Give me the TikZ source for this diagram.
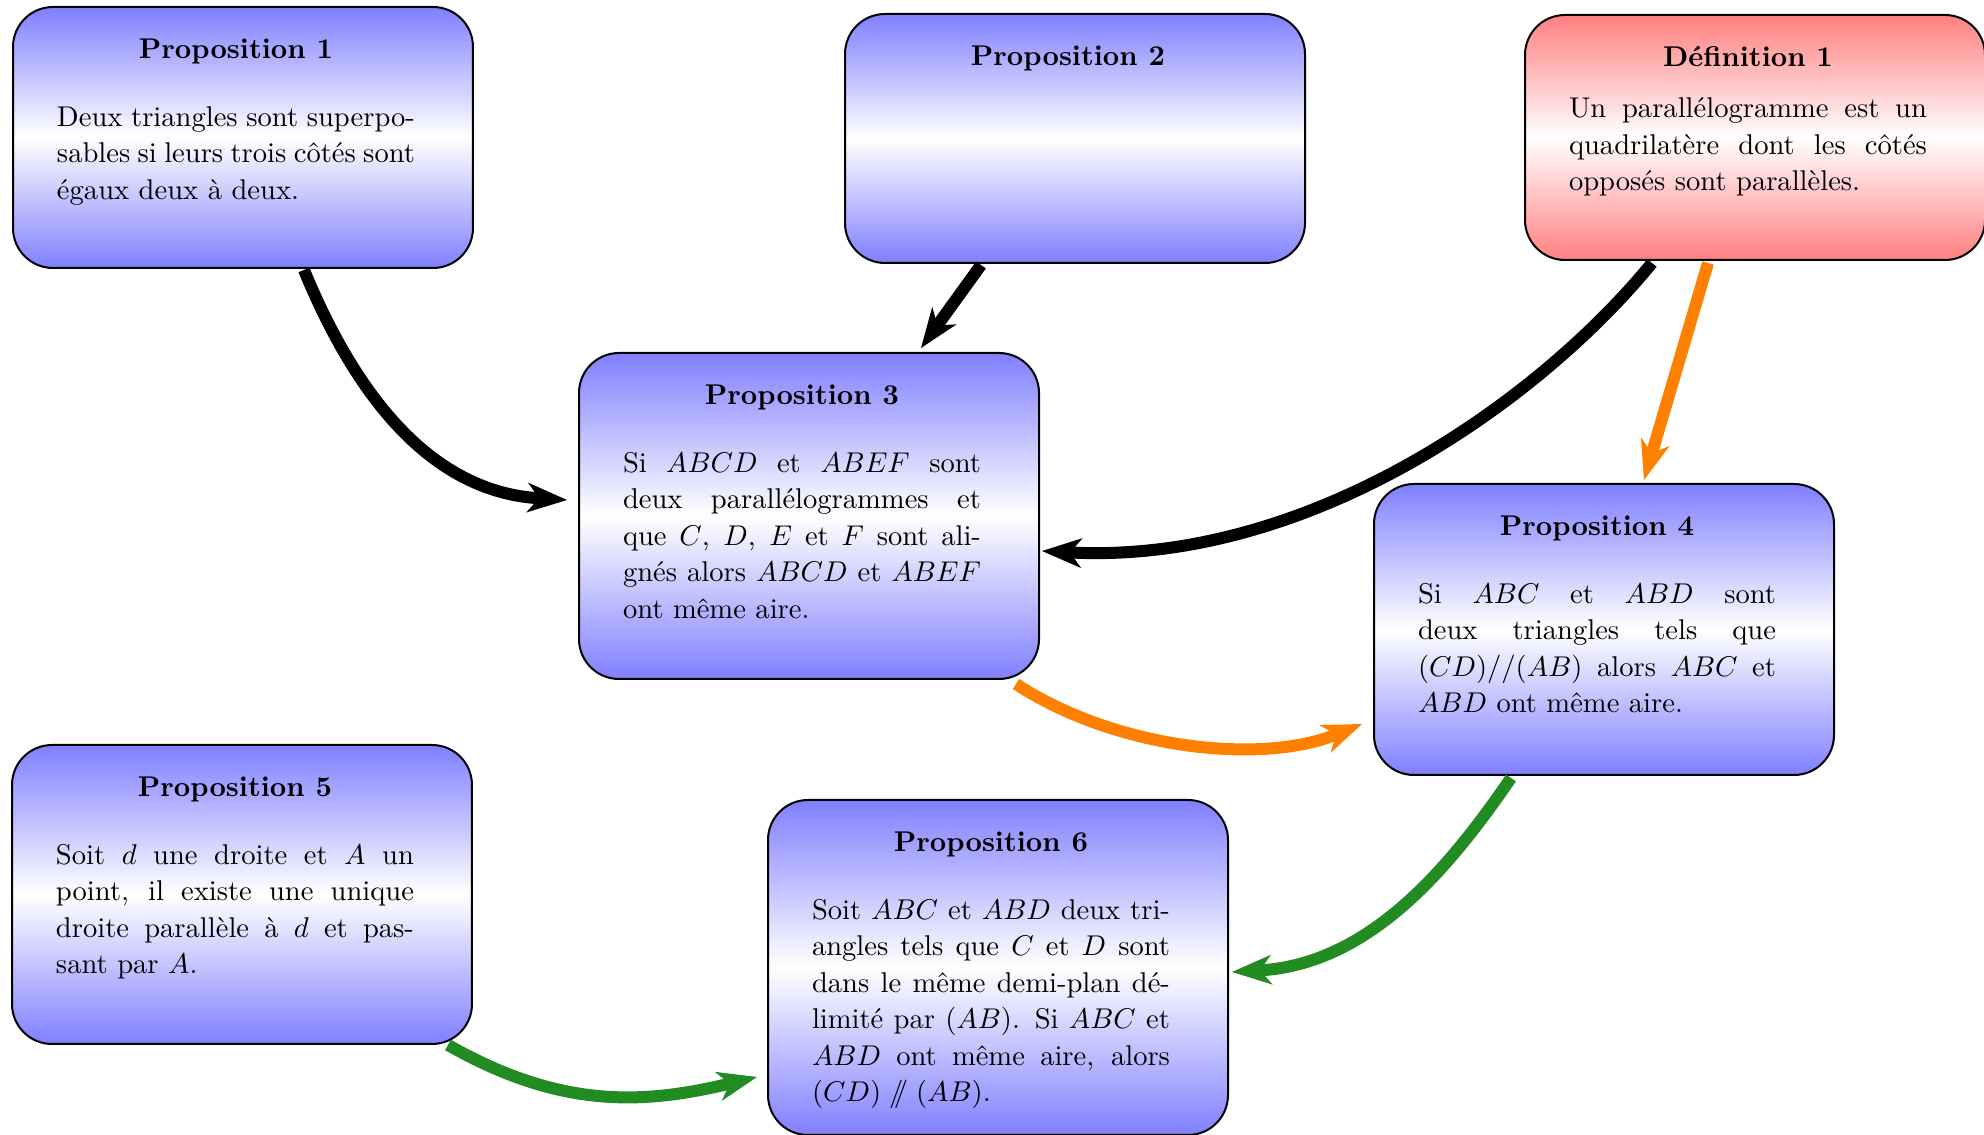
\documentclass[tikz,border=0pt]{standalone}
\usepackage{fontspec}
\usetikzlibrary{arrows.meta}
\definecolor{fgreen}{RGB}{34,139,34}
\newcommand{\cardtext}[4]{%
  \parbox[c][#1][t]{161pt}{\vspace*{8.9pt}\hspace*{15.4pt}%
    \parbox[t]{125.3pt}{\hyphenpenalty=10000 \exhyphenpenalty=10000 \parskip=0pt
      {\centering\bfseries #2\strut\par}\vspace{#3}#4}}}
\tikzset{
  card/.style={draw=black, line width=0.7pt, rounded corners=14pt,
    top color=blue!50, bottom color=blue!50, middle color=white,
    inner sep=0pt, anchor=north west, font=\fontsize{10}{12.8}\selectfont},
  defcard/.style={card, top color=red!50, bottom color=red!50, middle color=white},
  arr/.style={line width=4.2pt, -{Stealth[length=14pt,width=10.5pt,inset=4.2pt,line width=0pt]}},
  arrK/.style={arr, draw=black},
  arrO/.style={arr, draw=orange},
  arrG/.style={arr, draw=fgreen}
}
\begin{document}
\begin{tikzpicture}[x=0.35pt, y=-0.35pt]
\useasboundingbox (0,0) rectangle (1984,1135);

\node[card] (p1) at (12,6) {\cardtext{91.35pt}{Proposition 1}{11pt}{Deux triangles sont superpo-\linebreak sables si leurs trois côtés sont\linebreak égaux deux à deux.}};

\node[card] (p2) at (844,13) {\cardtext{87.15pt}{Proposition 2}{11pt}{}};

\node[defcard] (d1) at (1524,14) {\cardtext{85.75pt}{Définition 1}{5.3pt}{Un parallélogramme est un\linebreak quadrilatère dont les côtés\linebreak opposés sont parallèles.}};

\node[card] (p3) at (578,352) {\cardtext{114.1pt}{Proposition 3}{11pt}{Si $ABCD$ et $ABEF$ sont\linebreak deux parallélogrammes et\linebreak que $C$, $D$, $E$ et $F$ sont ali-\linebreak gnés alors $ABCD$ et $ABEF$\linebreak ont même aire.}};

\node[card] (p4) at (1373,483) {\cardtext{101.85pt}{Proposition 4}{11pt}{Si $ABC$ et $ABD$ sont\linebreak deux triangles tels que\linebreak $(CD)//(AB)$ alors $ABC$ et\linebreak $ABD$ ont même aire.}};

\node[card] (p5) at (11,744) {\cardtext{104.65pt}{Proposition 5}{11pt}{Soit $d$ une droite et $A$ un\linebreak point, il existe une unique\linebreak droite parallèle à $d$ et pas-\linebreak sant par $A$.}};

\node[card] (p6) at (767,799) {\cardtext{117.25pt}{Proposition 6}{11pt}{Soit $ABC$ et $ABD$ deux tri-\linebreak angles tels que $C$ et $D$ sont\linebreak dans le même demi-plan dé-\linebreak limité par $(AB)$. Si $ABC$ et\linebreak $ABD$ ont même aire, alors\linebreak $(CD)\mathrel{/\!\!/}(AB)$.}};

% connectors
\draw[arrK] ([shift={(61,1)}]p1.south) .. controls (360,406) and (437,492) .. ([shift={(-11,-16)}]p3.west);
\draw[arrK] ([shift={(-94,1)}]p2.south) -- ([shift={(112,-4)}]p3.north);
\draw[arrK] ([shift={(-103,2)}]d1.south) .. controls (1540,400) and (1310,565) .. ([shift={(2,35)}]p3.east);
\draw[arrO] ([shift={(-47,2)}]d1.south) -- ([shift={(40,-3)}]p4.north);
\draw[arrO] ([shift={(207,4)}]p3.south) .. controls (1115,749) and (1261,765) .. ([shift={(-11,94.5)}]p4.west);
\draw[arrG] ([shift={(-93,2)}]p4.south) .. controls (1450,867) and (1370,964) .. ([shift={(3,4.5)}]p6.east);
\draw[arrG] ([shift={(206,0)}]p5.south) .. controls (559,1108) and (641,1105) .. ([shift={(-10,109.5)}]p6.west);
\end{tikzpicture}
\end{document}
